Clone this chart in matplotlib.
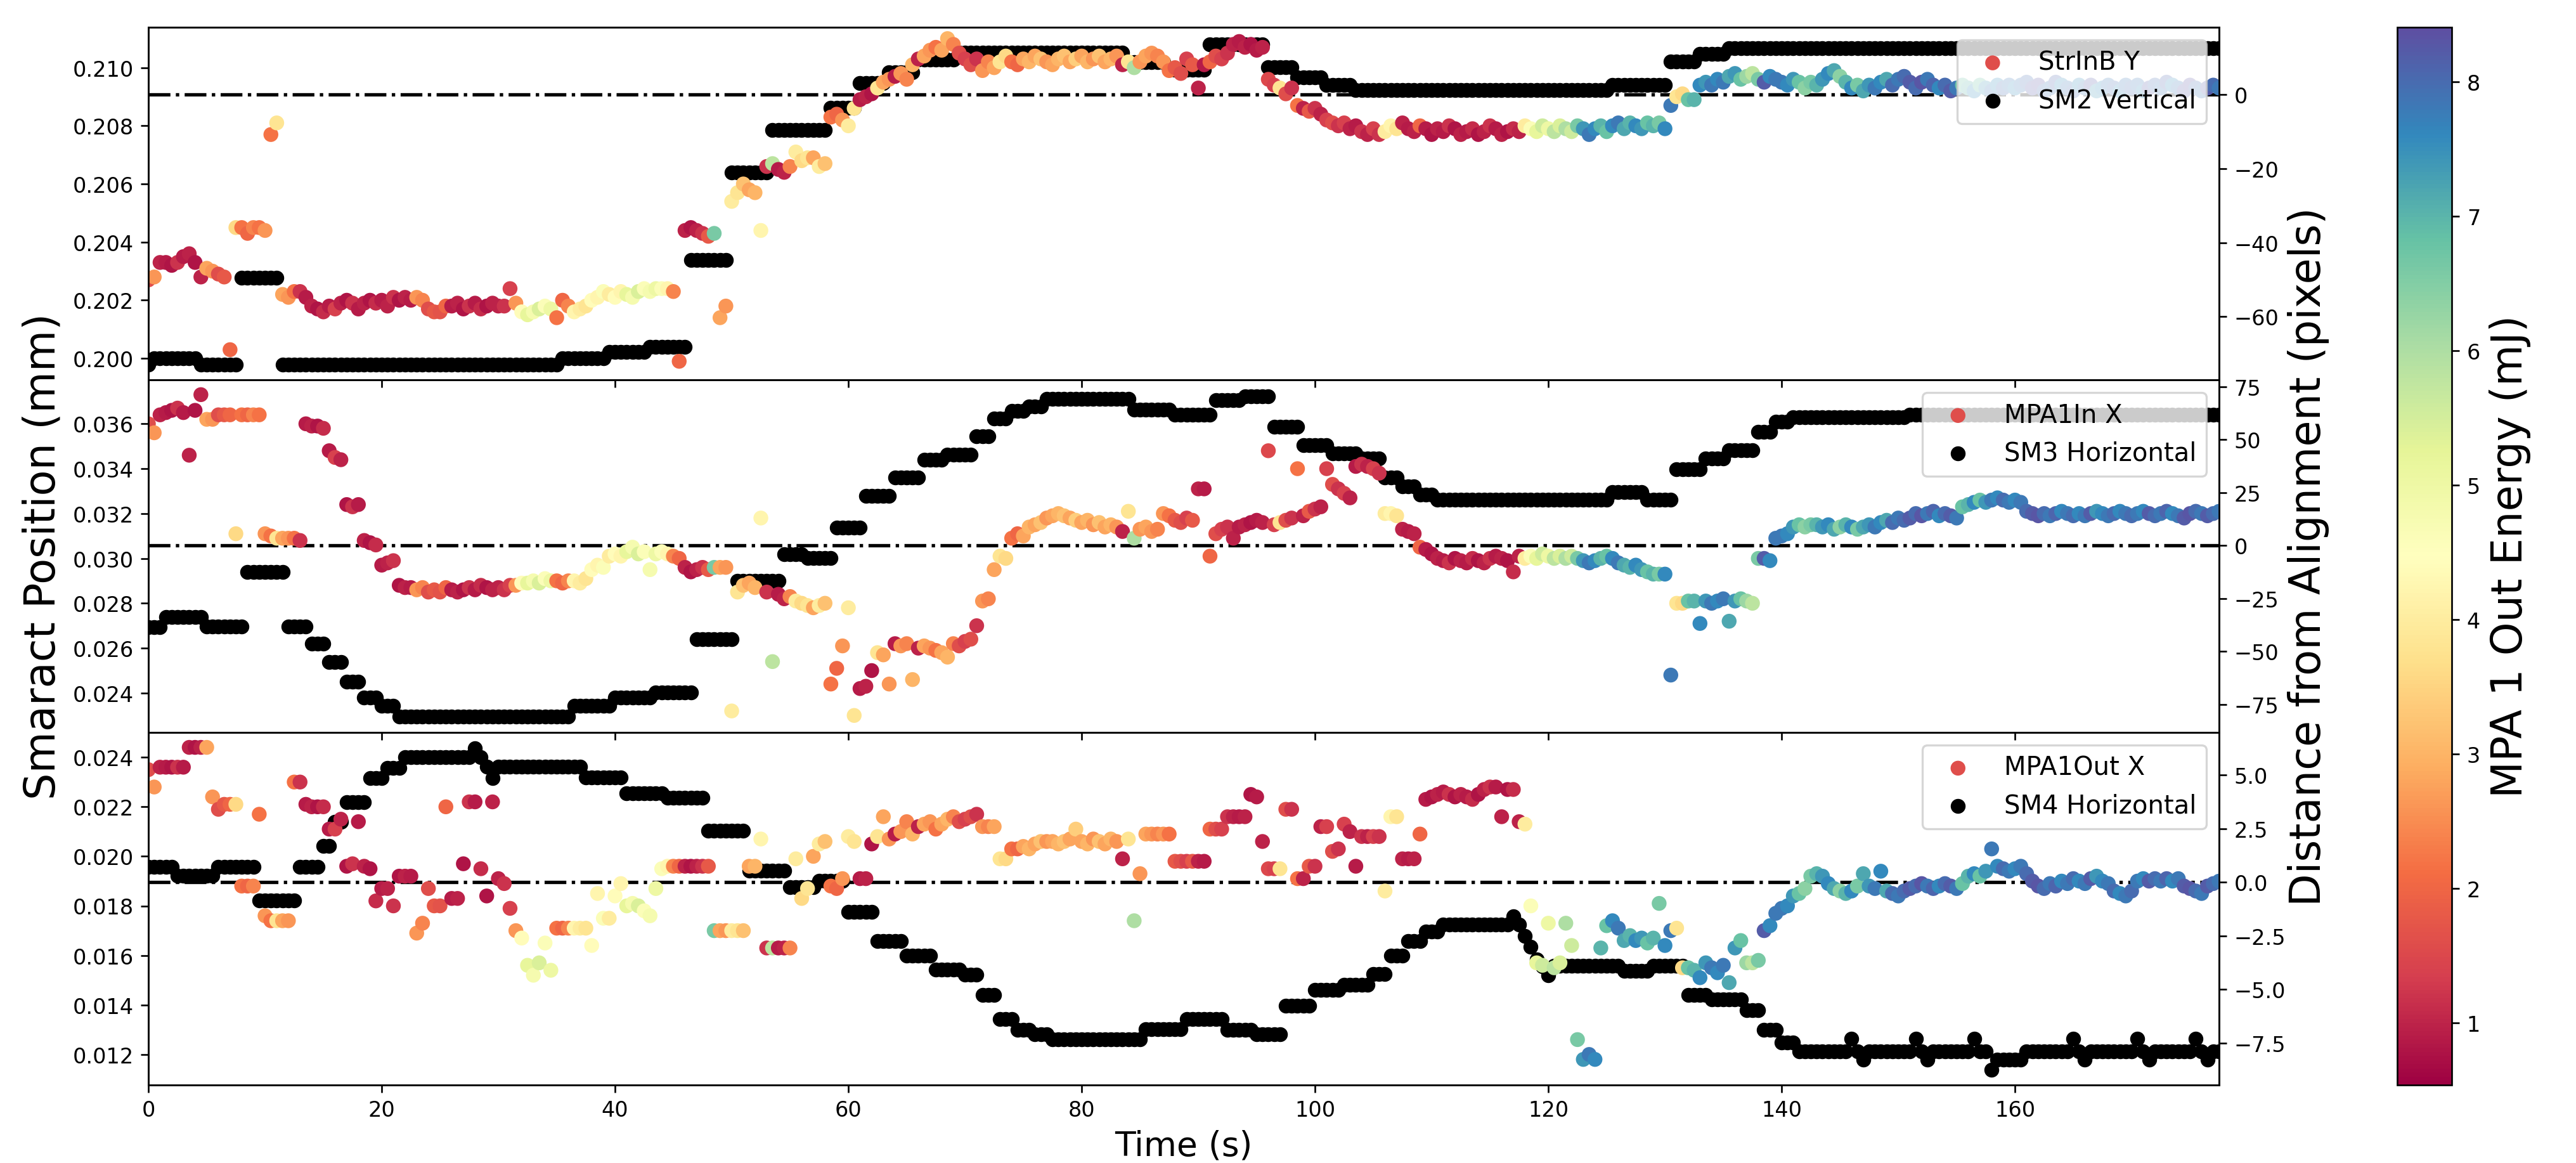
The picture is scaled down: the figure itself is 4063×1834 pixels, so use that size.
import numpy as np
import matplotlib
matplotlib.use("Agg")
import matplotlib.pyplot as plt
from matplotlib.ticker import FormatStrFormatter

# one sample every half second
sample_period_s = 0.5

# MPA 1 output energy (mJ) -> colour of the smaract points
mpa1_out_energy = [
    1.6, 2.6, 1.0, 0.9, 0.8, 1.2, 0.9, 1.0, 0.8, 1.0, 2.8, 2.6, 1.6, 1.8, 2.0, 3.6, 2.2, 2.0, 2.4, 2.2,
    2.6, 2.2, 3.8, 2.8, 2.6, 2.2, 1.2, 0.9, 1.0, 0.8, 1.1, 0.9, 1.4, 1.0, 0.8, 1.2, 0.9, 1.0, 0.8, 1.1,
    0.9, 1.0, 1.2, 0.8, 1.0, 0.9, 2.6, 2.4, 1.6, 1.8, 1.7, 2.0, 0.9, 1.0, 0.8, 1.2, 0.9, 1.1, 0.8, 1.0,
    1.0, 1.2, 1.4, 2.6, 4.4, 5.2, 4.8, 5.4, 4.6, 5.0, 2.2, 2.0, 2.4, 4.2, 4.0, 3.8, 4.4, 4.2, 4.6, 4.0,
    4.4, 4.2, 5.2, 4.8, 5.4, 4.6, 4.8, 5.0, 4.6, 4.2, 2.4, 2.0, 1.0, 0.8, 1.0, 1.2, 1.8, 6.6, 2.8, 2.6,
    4.0, 3.8, 3.2, 2.8, 3.0, 4.2, 1.2, 5.8, 0.9, 1.0, 2.4, 4.0, 3.6, 3.8, 2.8, 4.0, 3.2, 2.2, 2.0, 2.6,
    4.0, 3.8, 0.9, 1.0, 0.8, 3.8, 2.8, 2.6, 0.9, 2.6, 2.4, 3.0, 1.0, 2.8, 2.6, 2.2, 2.8, 3.0, 2.4, 1.6,
    1.4, 1.6, 1.2, 2.6, 2.4, 2.8, 3.8, 3.6, 2.2, 2.0, 2.8, 3.0, 2.8, 3.2, 2.6, 2.8, 3.0, 3.2, 2.8, 3.4,
    2.8, 3.0, 2.6, 3.2, 2.8, 3.0, 2.6, 1.0, 3.8, 6.0, 2.6, 2.8, 2.6, 2.4, 2.6, 2.2, 1.8, 1.6, 1.4, 1.8,
    1.0, 0.9, 2.0, 1.6, 1.4, 1.2, 1.0, 0.9, 1.0, 0.8, 0.9, 1.0, 1.5, 1.4, 3.8, 1.6, 1.2, 2.2, 1.0, 1.8,
    1.2, 1.0, 1.4, 1.6, 1.2, 1.4, 1.0, 0.9, 1.2, 1.0, 1.4, 1.2, 4.0, 4.2, 3.8, 1.0, 0.9, 1.0, 2.0, 0.9,
    0.8, 1.0, 0.9, 1.2, 0.8, 1.0, 0.9, 1.1, 0.8, 1.0, 1.2, 0.9, 1.0, 0.8, 1.1, 1.0, 4.0, 4.6, 5.2, 5.6,
    5.0, 5.8, 5.4, 6.0, 5.6, 6.6, 7.4, 7.8, 7.6, 7.0, 6.8, 7.6, 7.8, 7.2, 7.0, 7.6, 7.4, 6.8, 7.0, 6.6,
    7.6, 7.8, 3.8, 3.6, 6.8, 7.0, 7.6, 7.4, 7.8, 7.6, 7.8, 7.2, 7.4, 6.8, 6.2, 5.8, 6.6, 8.2, 7.6, 7.8,
    7.8, 7.6, 7.4, 6.8, 6.4, 6.6, 7.0, 7.4, 7.6, 7.2, 6.4, 7.0, 7.6, 6.6, 7.2, 7.4, 7.8, 7.6, 7.2, 8.0,
    7.8, 8.0, 8.2, 8.0, 8.3, 7.8, 8.1, 7.6, 8.0, 8.2, 7.8, 6.8, 7.0, 7.6, 6.8, 7.4, 7.8, 7.6, 8.0, 7.8,
    7.6, 7.8, 8.0, 8.2, 8.3, 8.0, 7.8, 8.1, 7.6, 7.8, 8.0, 7.6, 7.8, 8.2, 7.4, 7.6, 7.8, 8.0, 7.6, 7.8,
    8.0, 7.8, 7.6, 8.2, 8.0, 7.8, 8.1, 7.6, 7.8, 8.2, 8.3, 8.0, 7.8, 8.2, 8.0, 7.8,
]

# smaract positions (mm)
strinb_y = [
    0.2027, 0.2028, 0.2033, 0.2033, 0.2032, 0.2033, 0.2035, 0.2036, 0.2033, 0.2028, 0.2031, 0.2030, 0.2029, 0.2028, 0.2003, 0.2045, 0.2045, 0.2043, 0.2045, 0.2045,
    0.2044, 0.2077, 0.2081, 0.2022, 0.2021, 0.2023, 0.2023, 0.2021, 0.2018, 0.2017, 0.2016, 0.2018, 0.2017, 0.2019, 0.2020, 0.2019, 0.2017, 0.2019, 0.2020, 0.2019,
    0.2020, 0.2018, 0.2021, 0.2020, 0.2021, 0.2020, 0.2021, 0.2020, 0.2017, 0.2016, 0.2016, 0.2018, 0.2018, 0.2019, 0.2017, 0.2018, 0.2019, 0.2017, 0.2018, 0.2019,
    0.2018, 0.2018, 0.2024, 0.2019, 0.2016, 0.2015, 0.2016, 0.2017, 0.2018, 0.2017, 0.2014, 0.2020, 0.2018, 0.2016, 0.2017, 0.2018, 0.2020, 0.2021, 0.2023, 0.2022,
    0.2021, 0.2023, 0.2022, 0.2021, 0.2023, 0.2024, 0.2023, 0.2024, 0.2024, 0.2024, 0.2023, 0.1999, 0.2044, 0.2045, 0.2044, 0.2043, 0.2042, 0.2043, 0.2014, 0.2018,
    0.2054, 0.2057, 0.2060, 0.2058, 0.2057, 0.2044, 0.2066, 0.2067, 0.2065, 0.2064, 0.2066, 0.2071, 0.2068, 0.2069, 0.2069, 0.2066, 0.2067, 0.2083, 0.2084, 0.2082,
    0.2080, 0.2086, 0.2089, 0.2090, 0.2091, 0.2093, 0.2095, 0.2096, 0.2097, 0.2098, 0.2096, 0.2101, 0.2103, 0.2104, 0.2106, 0.2107, 0.2106, 0.2110, 0.2108, 0.2105,
    0.2103, 0.2101, 0.2103, 0.2099, 0.2102, 0.2100, 0.2102, 0.2104, 0.2102, 0.2101, 0.2103, 0.2102, 0.2104, 0.2103, 0.2102, 0.2101, 0.2103, 0.2104, 0.2102, 0.2103,
    0.2104, 0.2102, 0.2103, 0.2104, 0.2102, 0.2103, 0.2104, 0.2101, 0.2102, 0.2100, 0.2102, 0.2104, 0.2105, 0.2104, 0.2102, 0.2099, 0.2100, 0.2098, 0.2103, 0.2101,
    0.2093, 0.2101, 0.2102, 0.2104, 0.2103, 0.2105, 0.2108, 0.2109, 0.2107, 0.2108, 0.2106, 0.2107, 0.2096, 0.2094, 0.2093, 0.2091, 0.2093, 0.2087, 0.2086, 0.2085,
    0.2086, 0.2084, 0.2082, 0.2081, 0.2080, 0.2081, 0.2079, 0.2080, 0.2078, 0.2077, 0.2079, 0.2077, 0.2078, 0.2080, 0.2079, 0.2081, 0.2079, 0.2078, 0.2080, 0.2079,
    0.2077, 0.2079, 0.2078, 0.2080, 0.2079, 0.2077, 0.2078, 0.2079, 0.2077, 0.2078, 0.2080, 0.2079, 0.2077, 0.2078, 0.2079, 0.2078, 0.2080, 0.2079, 0.2078, 0.2080,
    0.2079, 0.2078, 0.2080, 0.2079, 0.2078, 0.2080, 0.2079, 0.2077, 0.2079, 0.2080, 0.2078, 0.2080, 0.2081, 0.2079, 0.2081, 0.2080, 0.2079, 0.2081, 0.2080, 0.2081,
    0.2079, 0.2087, 0.2090, 0.2091, 0.2089, 0.2089, 0.2094, 0.2095, 0.2094, 0.2096, 0.2095, 0.2097, 0.2098, 0.2096, 0.2097, 0.2098, 0.2096, 0.2095, 0.2097, 0.2096,
    0.2095, 0.2094, 0.2096, 0.2095, 0.2093, 0.2095, 0.2094, 0.2096, 0.2098, 0.2099, 0.2097, 0.2095, 0.2093, 0.2094, 0.2092, 0.2094, 0.2093, 0.2095, 0.2096, 0.2094,
    0.2096, 0.2097, 0.2095, 0.2093, 0.2095, 0.2096, 0.2094, 0.2093, 0.2094, 0.2092, 0.2093, 0.2094, 0.2093, 0.2092, 0.2094, 0.2093, 0.2092, 0.2094, 0.2093, 0.2094,
    0.2093, 0.2094, 0.2095, 0.2093, 0.2094, 0.2092, 0.2093, 0.2095, 0.2094, 0.2093, 0.2092, 0.2094, 0.2093, 0.2094, 0.2092, 0.2093, 0.2094, 0.2093, 0.2092, 0.2094,
    0.2093, 0.2094, 0.2092, 0.2093, 0.2094, 0.2093, 0.2095, 0.2094, 0.2093, 0.2092, 0.2094, 0.2093, 0.2092, 0.2093, 0.2094, 0.2093,
]

mpa1in_x = [
    0.0360, 0.0356, 0.0364, 0.0365, 0.0366, 0.0367, 0.0365, 0.0346, 0.0366, 0.0373, 0.0362, 0.0362, 0.0364, 0.0364, 0.0364, 0.0311, 0.0364, 0.0364, 0.0364, 0.0364,
    0.0311, 0.0310, 0.0309, 0.0309, 0.0309, 0.0309, 0.0308, 0.0360, 0.0359, 0.0359, 0.0358, 0.0348, 0.0345, 0.0344, 0.0324, 0.0323, 0.0324, 0.0308, 0.0307, 0.0306,
    0.0297, 0.0298, 0.0299, 0.0288, 0.0287, 0.0287, 0.0286, 0.0287, 0.0285, 0.0286, 0.0285, 0.0287, 0.0286, 0.0285, 0.0286, 0.0287, 0.0286, 0.0288, 0.0287, 0.0286,
    0.0287, 0.0286, 0.0288, 0.0288, 0.0289, 0.0289, 0.0290, 0.0289, 0.0291, 0.0290, 0.0290, 0.0289, 0.0290, 0.0290, 0.0289, 0.0291, 0.0295, 0.0297, 0.0296, 0.0301,
    0.0302, 0.0301, 0.0303, 0.0305, 0.0302, 0.0303, 0.0295, 0.0302, 0.0303, 0.0302, 0.0301, 0.0300, 0.0296, 0.0294, 0.0295, 0.0296, 0.0295, 0.0296, 0.0296, 0.0296,
    0.0232, 0.0285, 0.0288, 0.0289, 0.0287, 0.0318, 0.0285, 0.0254, 0.0284, 0.0282, 0.0283, 0.0281, 0.0280, 0.0279, 0.0278, 0.0279, 0.0280, 0.0244, 0.0251, 0.0261,
    0.0278, 0.0230, 0.0242, 0.0243, 0.0250, 0.0258, 0.0257, 0.0244, 0.0262, 0.0261, 0.0262, 0.0246, 0.0260, 0.0261, 0.0260, 0.0259, 0.0258, 0.0256, 0.0262, 0.0261,
    0.0263, 0.0264, 0.0270, 0.0281, 0.0282, 0.0295, 0.0301, 0.0300, 0.0309, 0.0311, 0.0310, 0.0314, 0.0315, 0.0316, 0.0318, 0.0319, 0.0320, 0.0319, 0.0318, 0.0317,
    0.0316, 0.0317, 0.0315, 0.0316, 0.0314, 0.0315, 0.0314, 0.0312, 0.0321, 0.0309, 0.0313, 0.0314, 0.0312, 0.0313, 0.0320, 0.0319, 0.0317, 0.0316, 0.0318, 0.0317,
    0.0331, 0.0331, 0.0301, 0.0311, 0.0313, 0.0314, 0.0309, 0.0314, 0.0315, 0.0316, 0.0317, 0.0316, 0.0348, 0.0315, 0.0316, 0.0317, 0.0318, 0.0340, 0.0319, 0.0321,
    0.0322, 0.0323, 0.0340, 0.0333, 0.0331, 0.0329, 0.0327, 0.0341, 0.0342, 0.0341, 0.0340, 0.0338, 0.0320, 0.0320, 0.0319, 0.0313, 0.0312, 0.0311, 0.0305, 0.0304,
    0.0302, 0.0300, 0.0299, 0.0298, 0.0300, 0.0299, 0.0298, 0.0300, 0.0299, 0.0298, 0.0300, 0.0301, 0.0300, 0.0299, 0.0294, 0.0301, 0.0300, 0.0301, 0.0300, 0.0302,
    0.0301, 0.0300, 0.0301, 0.0300, 0.0301, 0.0300, 0.0299, 0.0298, 0.0299, 0.0300, 0.0301, 0.0300, 0.0298, 0.0297, 0.0296, 0.0297, 0.0295, 0.0294, 0.0293, 0.0293,
    0.0293, 0.0248, 0.0280, 0.0280, 0.0281, 0.0281, 0.0271, 0.0281, 0.0280, 0.0281, 0.0282, 0.0272, 0.0281, 0.0282, 0.0281, 0.0280, 0.0300, 0.0300, 0.0299, 0.0309,
    0.0310, 0.0311, 0.0314, 0.0315, 0.0314, 0.0315, 0.0315, 0.0314, 0.0315, 0.0313, 0.0314, 0.0315, 0.0314, 0.0313, 0.0314, 0.0315, 0.0314, 0.0316, 0.0317, 0.0316,
    0.0318, 0.0317, 0.0318, 0.0320, 0.0319, 0.0320, 0.0321, 0.0319, 0.0320, 0.0319, 0.0318, 0.0323, 0.0324, 0.0325, 0.0326, 0.0325, 0.0326, 0.0327, 0.0326, 0.0325,
    0.0326, 0.0325, 0.0321, 0.0320, 0.0319, 0.0320, 0.0319, 0.0320, 0.0321, 0.0320, 0.0319, 0.0320, 0.0319, 0.0320, 0.0321, 0.0320, 0.0319, 0.0320, 0.0321, 0.0320,
    0.0319, 0.0320, 0.0321, 0.0320, 0.0319, 0.0320, 0.0321, 0.0320, 0.0319, 0.0318, 0.0320, 0.0321, 0.0320, 0.0319, 0.0320, 0.0321,
]

mpa1out_x = [
    0.0235, 0.0228, 0.0236, 0.0236, 0.0236, 0.0236, 0.0236, 0.0244, 0.0244, 0.0244, 0.0244, 0.0224, 0.0219, 0.0221, 0.0221, 0.0221, 0.0188, 0.0188, 0.0188, 0.0217,
    0.0176, 0.0174, 0.0174, 0.0174, 0.0174, 0.0230, 0.0230, 0.0221, 0.0220, 0.0220, 0.0220, 0.0211, 0.0211, 0.0215, 0.0196, 0.0197, 0.0214, 0.0196, 0.0195, 0.0182,
    0.0187, 0.0187, 0.0180, 0.0192, 0.0192, 0.0192, 0.0169, 0.0173, 0.0187, 0.0180, 0.0180, 0.0220, 0.0183, 0.0183, 0.0197, 0.0222, 0.0222, 0.0195, 0.0184, 0.0222,
    0.0191, 0.0189, 0.0179, 0.0170, 0.0167, 0.0156, 0.0152, 0.0157, 0.0165, 0.0154, 0.0171, 0.0171, 0.0171, 0.0171, 0.0171, 0.0171, 0.0164, 0.0185, 0.0175, 0.0175,
    0.0184, 0.0189, 0.0180, 0.0181, 0.0180, 0.0178, 0.0176, 0.0187, 0.0195, 0.0196, 0.0196, 0.0196, 0.0196, 0.0196, 0.0196, 0.0196, 0.0196, 0.0170, 0.0170, 0.0170,
    0.0170, 0.0170, 0.0170, 0.0196, 0.0196, 0.0207, 0.0163, 0.0163, 0.0163, 0.0163, 0.0163, 0.0199, 0.0183, 0.0187, 0.0200, 0.0205, 0.0206, 0.0188, 0.0187, 0.0191,
    0.0208, 0.0206, 0.0191, 0.0191, 0.0205, 0.0208, 0.0216, 0.0207, 0.0209, 0.0210, 0.0214, 0.0209, 0.0212, 0.0213, 0.0214, 0.0211, 0.0213, 0.0215, 0.0216, 0.0214,
    0.0215, 0.0216, 0.0217, 0.0212, 0.0212, 0.0212, 0.0199, 0.0199, 0.0203, 0.0203, 0.0204, 0.0203, 0.0205, 0.0206, 0.0206, 0.0206, 0.0205, 0.0206, 0.0207, 0.0211,
    0.0206, 0.0205, 0.0207, 0.0206, 0.0205, 0.0207, 0.0206, 0.0199, 0.0207, 0.0174, 0.0193, 0.0209, 0.0209, 0.0209, 0.0209, 0.0209, 0.0198, 0.0198, 0.0198, 0.0198,
    0.0198, 0.0198, 0.0211, 0.0211, 0.0211, 0.0216, 0.0216, 0.0216, 0.0216, 0.0225, 0.0224, 0.0206, 0.0195, 0.0195, 0.0195, 0.0219, 0.0219, 0.0191, 0.0191, 0.0196,
    0.0196, 0.0212, 0.0212, 0.0202, 0.0203, 0.0213, 0.0210, 0.0196, 0.0208, 0.0208, 0.0208, 0.0208, 0.0186, 0.0216, 0.0216, 0.0199, 0.0199, 0.0199, 0.0209, 0.0223,
    0.0224, 0.0225, 0.0226, 0.0225, 0.0224, 0.0225, 0.0224, 0.0223, 0.0225, 0.0227, 0.0228, 0.0228, 0.0216, 0.0227, 0.0227, 0.0214, 0.0213, 0.0180, 0.0157, 0.0156,
    0.0173, 0.0155, 0.0157, 0.0173, 0.0164, 0.0126, 0.0118, 0.0120, 0.0118, 0.0163, 0.0172, 0.0174, 0.0171, 0.0166, 0.0168, 0.0166, 0.0167, 0.0165, 0.0167, 0.0181,
    0.0164, 0.0170, 0.0171, 0.0155, 0.0155, 0.0154, 0.0151, 0.0157, 0.0155, 0.0153, 0.0156, 0.0149, 0.0163, 0.0166, 0.0157, 0.0157, 0.0158, 0.0170, 0.0172, 0.0177,
    0.0179, 0.0180, 0.0184, 0.0185, 0.0187, 0.0192, 0.0193, 0.0192, 0.0189, 0.0187, 0.0186, 0.0185, 0.0186, 0.0188, 0.0193, 0.0188, 0.0187, 0.0194, 0.0186, 0.0185,
    0.0184, 0.0186, 0.0187, 0.0188, 0.0189, 0.0188, 0.0187, 0.0188, 0.0189, 0.0188, 0.0187, 0.0189, 0.0192, 0.0193, 0.0192, 0.0194, 0.0203, 0.0196, 0.0195, 0.0194,
    0.0195, 0.0196, 0.0193, 0.0190, 0.0188, 0.0187, 0.0189, 0.0188, 0.0190, 0.0189, 0.0191, 0.0190, 0.0189, 0.0191, 0.0192, 0.0190, 0.0189, 0.0186, 0.0185, 0.0184,
    0.0186, 0.0190, 0.0191, 0.0190, 0.0191, 0.0190, 0.0191, 0.0190, 0.0191, 0.0188, 0.0187, 0.0186, 0.0185, 0.0188, 0.0189, 0.0190,
]

# camera distance from alignment (pixels), as (level, number of samples held)
sm2_vertical_runs = [
    (-72.9, 1), (-71.2, 8), (-72.9, 7), (-49.4, 7), (-72.9, 48), (-71.2, 8), (-69.5, 7), (-68.1, 7),
    (-44.6, 7), (-21.0, 7), (-9.6, 10), (-3.6, 5), (3.1, 5), (6.1, 5), (9.5, 7), (11.4, 29), (8.8, 7),
    (6.8, 7), (13.6, 10), (7.5, 5), (4.7, 5), (2.7, 5), (1.2, 44), (2.7, 10), (8.9, 5), (11.0, 5), (12.5, 85),
]
sm3_horizontal_runs = [
    (-38.4, 3), (-33.8, 7), (-38.1, 7), (-12.4, 7), (-38.1, 4), (-46.4, 3), (-55.0, 3), (-64.1, 3),
    (-71.6, 3), (-75.6, 3), (-80.7, 30), (-75.6, 7), (-71.6, 7), (-69.3, 7), (-44.1, 7), (-16.6, 8),
    (-4.0, 4), (-5.7, 5), (8.6, 5), (23.5, 5), (32.1, 5), (40.6, 4), (42.9, 5), (51.5, 3), (60.1, 3),
    (63.6, 3), (65.8, 3), (69.3, 15), (64.1, 7), (61.8, 7), (68.7, 5), (70.4, 5), (56.1, 5), (47.5, 5),
    (43.5, 5), (41.2, 4), (32.1, 3), (28.1, 3), (24.0, 3), (21.8, 30), (25.2, 6), (21.8, 5), (36.1, 5),
    (41.2, 4), (45.2, 5), (53.8, 3), (58.4, 3), (60.7, 20), (61.8, 54),
]
sm4_horizontal_runs = [
    (0.72, 5), (0.29, 7), (0.72, 7), (-0.85, 7), (0.72, 4), (1.68, 2), (2.82, 2), (3.74, 4), (4.86, 3),
    (5.34, 3), (5.84, 12), (6.24, 1), (5.84, 1), (5.38, 1), (4.86, 1), (5.38, 15), (4.88, 7), (4.14, 7),
    (3.94, 7), (2.39, 7), (0.53, 7), (-0.24, 5), (0.07, 5), (-1.38, 5), (-2.73, 5), (-3.41, 5), (-4.07, 5),
    (-4.31, 3), (-5.25, 3), (-6.37, 3), (-6.89, 3), (-7.09, 3), (-7.33, 16), (-6.85, 7), (-6.37, 7),
    (-6.89, 5), (-7.09, 5), (-5.75, 5), (-5.02, 5), (-4.79, 5), (-4.29, 3), (-3.41, 3), (-2.73, 3),
    (-2.30, 3), (-1.97, 12), (-1.58, 1), (-1.97, 1), (-2.5, 1), (-3.0, 1), (-3.6, 1), (-3.94, 1), (-4.33, 1),
    (-3.91, 12), (-4.14, 5), (-3.91, 6), (-5.25, 4), (-5.45, 6), (-5.97, 3), (-6.89, 3), (-7.48, 3),
    (-7.88, 9), (-7.29, 1), (-7.88, 1), (-8.27, 1), (-7.88, 8), (-7.29, 1), (-7.88, 1), (-8.27, 1),
    (-7.88, 7), (-7.29, 1), (-7.88, 2), (-8.73, 1), (-8.27, 5), (-7.88, 8), (-7.29, 1), (-7.88, 1),
    (-8.27, 1), (-7.88, 8), (-7.29, 1), (-7.88, 1), (-8.27, 1), (-7.88, 7), (-7.29, 1), (-7.88, 1),
    (-8.27, 1), (-7.88, 2),
]

pos_labels = ['StrInB Y', 'MPA1In X', 'MPA1Out X']
cam_labels = ['SM2 Vertical', 'SM3 Horizontal', 'SM4 Horizontal']
pos_limits = [(0.19927, 0.21140), (0.02225, 0.03797), (0.01077, 0.02501)]
cam_limits = [(-77.0, 18.3), (-88.1, 78.4), (-9.45, 6.99)]
pos_ticks = [[0.200, 0.202, 0.204, 0.206, 0.208, 0.210],
             [0.024, 0.026, 0.028, 0.030, 0.032, 0.034, 0.036],
             [0.012, 0.014, 0.016, 0.018, 0.020, 0.022, 0.024]]
cam_ticks = [[-60, -40, -20, 0],
             [-75, -50, -25, 0, 25, 50, 75],
             [-7.5, -5.0, -2.5, 0.0, 2.5, 5.0]]
time_ticks = [0, 20, 40, 60, 80, 100, 120, 140, 160]


def expand_runs(runs):
    levels = [r[0] for r in runs]
    counts = [r[1] for r in runs]
    return np.repeat(levels, counts)


time_s = np.arange(len(mpa1_out_energy)) * sample_period_s
positions = [strinb_y, mpa1in_x, mpa1out_x]
cameras = [expand_runs(sm2_vertical_runs), expand_runs(sm3_horizontal_runs),
           expand_runs(sm4_horizontal_runs)]

fig = plt.figure(figsize=(16.86, 7.614), dpi=241)
ax_left, ax_width = 0.0576, 0.8038
ax_bottom, ax_h = 0.0671, 0.9092 / 3

axes = []
for i in range(3):
    y0 = ax_bottom + (2 - i) * ax_h
    ax = fig.add_axes([ax_left, y0, ax_width, ax_h], sharex=axes[0][0] if axes else None)
    axr = ax.twinx()
    # smaract points drawn above the camera points
    ax.set_zorder(axr.get_zorder() + 1)
    ax.patch.set_visible(False)

    sc = ax.scatter(time_s, positions[i], c=mpa1_out_energy, cmap='Spectral',
                    vmin=0.54, vmax=8.41, s=36, label=pos_labels[i])
    bk = axr.scatter(time_s, cameras[i], color='k', s=36, label=cam_labels[i])
    axr.axhline(0, color='k', ls='-.', lw=1.6)

    ax.set_ylim(*pos_limits[i])
    axr.set_ylim(*cam_limits[i])
    ax.set_yticks(pos_ticks[i])
    axr.set_yticks(cam_ticks[i])
    ax.yaxis.set_major_formatter(FormatStrFormatter('%.3f'))
    ax.set_xlim(0, 177.5)
    ax.set_xticks(time_ticks)
    if i < 2:
        ax.tick_params(labelbottom=False)

    ax.legend([sc, bk], [pos_labels[i], cam_labels[i]], loc='upper right', fontsize=12)
    axes.append((ax, axr))

axes[1][0].set_ylabel('Smaract Position (mm)', fontsize=20)
axes[1][1].set_ylabel('Distance from Alignment (pixels)', fontsize=20)
axes[2][0].set_xlabel('Time (s)', fontsize=16)

cax = fig.add_axes([0.9306, 0.0671, 0.0212, 0.9092])
cb = fig.colorbar(sc, cax=cax)
cb.set_label('MPA 1 Out Energy (mJ)', fontsize=20)

fig.savefig('out.png', dpi=241)
